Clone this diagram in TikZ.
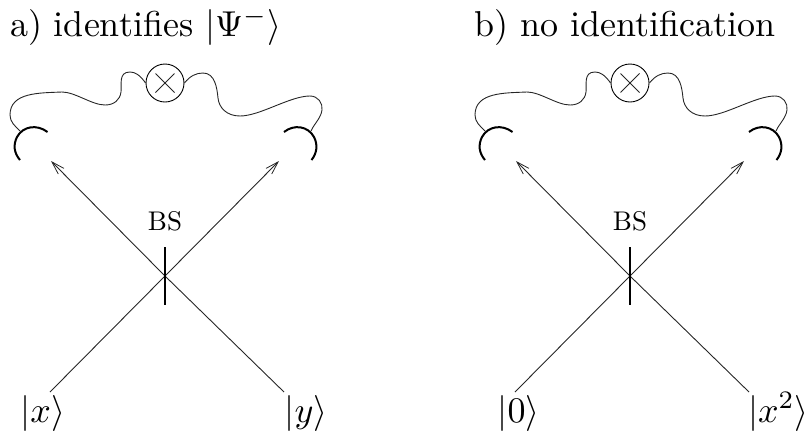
\documentclass[tikz,border=0pt]{standalone}
\usetikzlibrary{arrows.meta,calc}
\tikzset{
  txt/.style={scale=3.6,inner sep=0pt,outer sep=0pt},
  bslabel/.style={scale=2.7,inner sep=0pt,outer sep=0pt},
  ray/.style={line width=0.9pt,black!85},
  arrowray/.style={ray,-{Straight Barb[length=13pt,width=8pt,line width=0.8pt]}},
  wire/.style={line width=0.9pt,black!85},
  detector/.style={line width=2pt,line cap=butt},
  bsplate/.style={line width=1.8pt},
  meter/.style={circle,draw,line width=0.9pt,minimum size=38pt,inner sep=0pt},
  crossmark/.style={line width=0.9pt,black!85}
}
\newcommand{\panel}[2]{%
\begin{scope}[shift={(#1,0)}]
  \coordinate (#2c) at (165,276);
  \coordinate (#2bl) at (50,392);
  \coordinate (#2br) at (284,392);
  \coordinate (#2tl) at (51,161);
  \coordinate (#2tr) at (279,161);
  \draw[ray] (#2bl) -- (#2c);
  \draw[ray] (#2br) -- (#2c);
  \draw[arrowray] (#2c) -- (#2tl);
  \draw[arrowray] (#2c) -- (#2tr);
  \coordinate (#2pt) at (165,247);
  \coordinate (#2pb) at (165,305);
  \draw[bsplate] (#2pt) -- (#2pb);
  \node[bslabel] (#2bs) at (165,221) {BS};
  \node[meter] (#2m) at (165,83) {};
  \coordinate (#2xa) at (155.5,73.5);
  \coordinate (#2xb) at (174.5,92.5);
  \coordinate (#2xc) at (155.5,92.5);
  \coordinate (#2xd) at (174.5,73.5);
  \draw[crossmark] (#2xa) -- (#2xb);
  \draw[crossmark] (#2xc) -- (#2xd);
  \coordinate (#2wl) at (20,131);
  \coordinate (#2wr) at (311,131);
  \draw[wire] (#2m.west) .. controls (140,75) and (135,72) .. (130,72)
     .. controls (118,72) and (122,85) .. (121,92)
     .. controls (120,100) and (114,105) .. (105,105)
     .. controls (92,105) and (75,92) .. (62,92)
     .. controls (40,93) and (10,92) .. (10,115)
     .. controls (10,122) and (15,126) .. (#2wl);
  \draw[wire] (#2m.east) .. controls (190,76) and (196,73) .. (203,73)
     .. controls (215,73) and (217,88) .. (218,98)
     .. controls (219,108) and (227,116) .. (240,116)
     .. controls (260,116) and (290,96) .. (310,96)
     .. controls (318,96) and (323,103) .. (322,110)
     .. controls (321,118) and (314,124) .. (#2wr);
  \coordinate (#2dla) at (47.5,132);
  \coordinate (#2dlb) at (20,160);
  \coordinate (#2dra) at (284,132);
  \coordinate (#2drb) at (311.5,160);
  \draw[detector] (#2dla) .. controls (37,124) and (23,126) .. (17,137)
     .. controls (13,145) and (14,153) .. (#2dlb);
  \draw[detector] (#2dra) .. controls (294,124) and (308,126) .. (314,137)
     .. controls (318,145) and (317,153) .. (#2drb);
\end{scope}}
\begin{document}
\begin{tikzpicture}[x=1pt,y=-1pt]
  \useasboundingbox (0,0) rectangle (804,432);
  \panel{0}{a}
  \panel{465}{b}
  \node[txt,anchor=base west] (ta) at (10,36.5) {a) identifies $|\Psi^-\rangle$};
  \node[txt,anchor=base west] (tb) at (474,36.5) {b) no identification};
  \node[txt,anchor=base west] (k1) at (20.5,422) {$|x\rangle$};
  \node[txt,anchor=base west] (k2) at (284.5,422) {$|y\rangle$};
  \node[txt,anchor=base west] (k3) at (497.5,422) {$|0\rangle$};
  \node[txt,anchor=base west] (k4) at (748,422) {$|x^2\rangle$};
\end{tikzpicture}
\end{document}
